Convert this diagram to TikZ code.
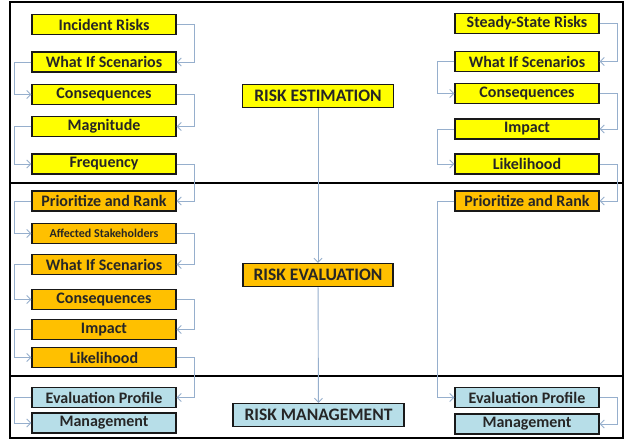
\documentclass[tikz,border=0pt]{standalone}
\usepackage{fontspec}
\setmainfont{Carlito}
\usetikzlibrary{arrows.meta}
\definecolor{boxyellow}{RGB}{255,255,0}
\definecolor{boxorange}{RGB}{255,192,0}
\definecolor{boxblue}{RGB}{183,222,232}
\definecolor{connc}{RGB}{150,175,205}
\tikzset{
  box/.style={draw=black!90, line width=1.3pt, minimum width=144pt, minimum height=20pt, inner sep=0pt, font=\fontsize{16}{17}\selectfont\bfseries, text=black!85},
  ybox/.style={box, fill=boxyellow},
  obox/.style={box, fill=boxorange},
  bbox/.style={box, fill=boxblue},
  head/.style={draw=black!90, line width=1.3pt, minimum height=23pt, inner sep=0pt, font=\fontsize{17.5}{18}\selectfont\bfseries, text=black!85},
  conn/.style={draw=connc, line width=0.9pt, -{Straight Barb[length=4pt,width=8pt]}},
  frame/.style={draw=black, line width=1.4pt}
}
\begin{document}
\begin{tikzpicture}[x=1pt,y=-1pt]
\useasboundingbox (0,0) rectangle (629,441);
\fill[white] (0,0) rectangle (629,441);
% frame
\draw[frame] (10,2) rectangle (623,438);
\draw[frame] (10,183) -- (623,183);
\draw[frame] (10,376) -- (623,376);
% centre
\node[ybox, head, minimum width=151pt] (est) at (318,96) {RISK ESTIMATION};
\node[obox, head, minimum width=150pt] (eva) at (318,275) {RISK EVALUATION};
\node[bbox, head, minimum width=171pt] (mgt) at (318.5,415) {RISK MANAGEMENT};
\draw[conn] (est) -- (eva);
\draw[conn] (eva) -- (mgt);
% left column
\node[ybox] (l1) at (104,24.5) {Incident Risks};
\node[ybox] (l2) at (104,62) {What If Scenarios};
\node[ybox] (l3) at (104,94.5) {Consequences};
\node[ybox] (l4) at (104,126.5) {Magnitude};
\node[ybox] (l5) at (104,164) {Frequency};
\node[obox] (l6) at (104,201) {Prioritize and Rank};
\node[obox, font=\fontsize{12}{13}\selectfont\bfseries] (l7) at (104,233.5) {Affected Stakeholders};
\node[obox] (l8) at (104,264.5) {What If Scenarios};
\node[obox] (l9) at (104,299.5) {Consequences};
\node[obox] (l10) at (104,329.5) {Impact};
\node[obox] (l11) at (104,357.5) {Likelihood};
\node[bbox] (l12) at (104,397.5) {Evaluation Profile};
\node[bbox] (l13) at (104,423) {Management};
\draw[conn] (l1.east) -- ++(18,0) |- (l2.east);
\draw[conn] (l2.west) -- ++(-17,0) |- (l3.west);
\draw[conn] (l3.east) -- ++(18,0) |- (l4.east);
\draw[conn] (l4.west) -- ++(-17,0) |- (l5.west);
\draw[conn] (l5.east) -- ++(18,0) |- (l6.east);
\draw[conn] (l6.west) -- ++(-17,0) |- (l7.west);
\draw[conn] (l7.east) -- ++(18,0) |- (l8.east);
\draw[conn] (l8.west) -- ++(-17,0) |- (l9.west);
\draw[conn] (l9.east) -- ++(18,0) |- (l10.east);
\draw[conn] (l10.west) -- ++(-17,0) |- (l11.west);
\draw[conn] (l11.east) -- ++(18,0) |- (l12.east);
\draw[conn] (l12.west) -- ++(-17,0) |- (l13.west);
% right column
\node[ybox] (r1) at (527,23.5) {Steady-State Risks};
\node[ybox] (r2) at (527,61.5) {What If Scenarios};
\node[ybox] (r3) at (527,93.5) {Consequences};
\node[ybox] (r4) at (527,129) {Impact};
\node[ybox] (r5) at (527,164) {Likelihood};
\node[obox] (r6) at (527,201) {Prioritize and Rank};
\node[bbox] (r7) at (527,397.5) {Evaluation Profile};
\node[bbox] (r8) at (527,424) {Management};
\draw[conn] (r1.east) -- ++(18,0) |- (r2.east);
\draw[conn] (r2.west) -- ++(-17,0) |- (r3.west);
\draw[conn] (r3.east) -- ++(18,0) |- (r4.east);
\draw[conn] (r4.west) -- ++(-17,0) |- (r5.west);
\draw[conn] (r5.east) -- ++(18,0) |- (r6.east);
\draw[conn] (r6.west) -- ++(-17,0) |- (r7.west);
\draw[conn] (r7.east) -- ++(18,0) |- (r8.east);
\end{tikzpicture}
\end{document}
